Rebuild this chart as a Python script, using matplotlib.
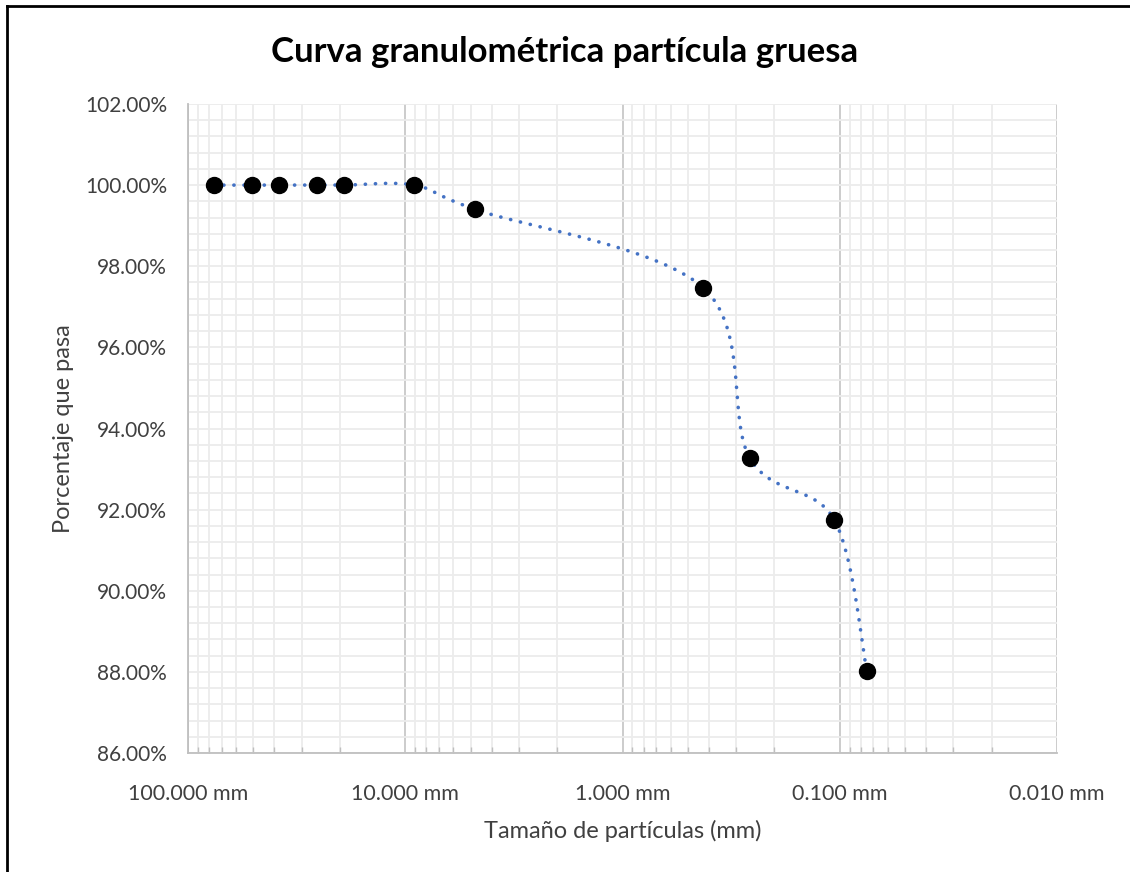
import numpy as np
import matplotlib
matplotlib.use("Agg")
import matplotlib.pyplot as plt
from matplotlib.ticker import FixedLocator, FuncFormatter, LogLocator, NullFormatter, MultipleLocator

plt.rcParams['font.family'] = ['Lato', 'DejaVu Sans']

# Sieve openings (mm) and cumulative percentage passing
sizes_mm = [76.2, 50.8, 38.1, 25.4, 19.05, 9.1, 4.76, 0.425, 0.26, 0.106, 0.075]
passing_pct = [100.0, 100.0, 100.0, 100.0, 100.0, 100.0, 99.4, 97.47, 93.28, 91.75, 88.02]

title = "Curva granulométrica partícula gruesa"
xlabel = "Tamaño de partículas (mm)"
ylabel = "Porcentaje que pasa"
x_major = [100, 10, 1, 0.1, 0.01]

fig = plt.figure(figsize=(11.3, 8.72), dpi=100)
ax = fig.add_axes([188 / 1130, 1 - 753 / 872, (1057 - 188) / 1130, (753 - 104) / 872])

ax.set_xscale('log')
ax.set_xlim(100, 0.01)
ax.set_ylim(86, 102)

# grid styling
ax.xaxis.set_major_locator(FixedLocator(x_major))
ax.xaxis.set_minor_locator(LogLocator(base=10, subs=np.arange(2, 10)))
ax.xaxis.set_minor_formatter(NullFormatter())
ax.xaxis.set_major_formatter(FuncFormatter(lambda v, p: f"{v:.3f} mm"))
ax.yaxis.set_major_locator(MultipleLocator(2))
ax.yaxis.set_minor_locator(MultipleLocator(0.4))
ax.yaxis.set_major_formatter(FuncFormatter(lambda v, p: f"{v:.2f}%"))

ax.grid(which='major', axis='x', color='#c8c8c8', linewidth=1.3)
ax.grid(which='minor', axis='x', color='#ececec', linewidth=1.3)
ax.grid(which='both', axis='y', color='#ececec', linewidth=1.3)
ax.set_axisbelow(True)

for side in ('top', 'right'):
    ax.spines[side].set_visible(False)
for side in ('left', 'bottom'):
    ax.spines[side].set_color('#bfbfbf')
    ax.spines[side].set_linewidth(1.3)

ax.tick_params(axis='x', which='major', length=0, pad=22, labelsize=15.5, labelcolor='#404040')
ax.tick_params(axis='x', which='minor', direction='in', length=4, width=1, color='#bfbfbf')
ax.tick_params(axis='y', which='both', length=0, pad=15, labelsize=15, labelcolor='#404040')

ax.set_xlabel(xlabel, fontsize=17, color='#404040', labelpad=12)
ax.set_ylabel(ylabel, fontsize=17, color='#404040', labelpad=8)
fig.text(0.5, 1 - 52 / 872, title, ha='center', va='center', fontsize=25, fontweight='bold', color='black')

# Smoothed connecting curve (Catmull-Rom in display space)
fig.canvas.draw()
pts = ax.transData.transform(np.column_stack([sizes_mm, passing_pct]))
n = len(pts)
curve = []
for i in range(n - 1):
    p0 = pts[max(i - 1, 0)]
    p1 = pts[i]
    p2 = pts[i + 1]
    p3 = pts[min(i + 2, n - 1)]
    c1 = p1 + (p2 - p0) / 6.0
    c2 = p2 - (p3 - p1) / 6.0
    t = np.linspace(0, 1, 60)[:, None]
    seg = ((1 - t) ** 3) * p1 + 3 * ((1 - t) ** 2) * t * c1 + 3 * (1 - t) * t ** 2 * c2 + t ** 3 * p2
    curve.append(seg if i == 0 else seg[1:])
curve = np.vstack(curve)
curve_data = ax.transData.inverted().transform(curve)

ax.plot(curve_data[:, 0], curve_data[:, 1], color='#4472C4', linewidth=2.6,
        linestyle=(0, (0.05, 2.75)), dash_capstyle='round', zorder=2)
ax.plot(sizes_mm, passing_pct, linestyle='none', marker='o', markersize=11.5,
        color='black', zorder=3)

# chart frame edges
fig.add_artist(plt.Line2D([7 / 1130, 7 / 1130], [0, 1 - 6 / 872], transform=fig.transFigure,
                          color='black', linewidth=2))
fig.add_artist(plt.Line2D([7 / 1130, 1], [1 - 6 / 872, 1 - 6 / 872], transform=fig.transFigure,
                          color='black', linewidth=2))

fig.savefig("out.png", dpi=100)
